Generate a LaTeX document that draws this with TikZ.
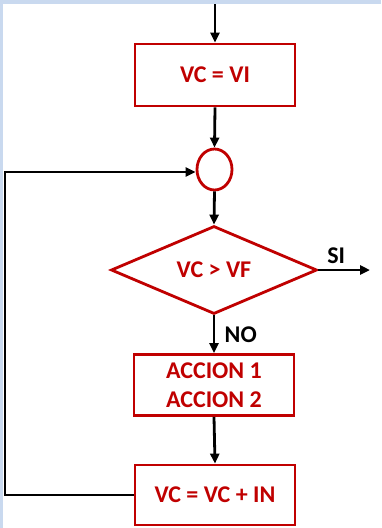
\documentclass[tikz,border=0pt]{standalone}
\usepackage{fontspec}
\setmainfont{Carlito}
\usepackage{tikz}
\usetikzlibrary{arrows.meta,shapes.geometric,positioning}
\definecolor{boxred}{HTML}{C00000}
\definecolor{pageblue}{HTML}{C9D9EF}

\begin{document}
\begin{tikzpicture}[x=1pt,y=-1pt,font=\fontsize{24}{29}\selectfont\bfseries,
  box/.style={draw=boxred,line width=2.8pt,text=boxred,align=center,minimum width=160pt,inner sep=0pt},
  link/.style={draw=black,line width=2.8pt,-{Triangle[length=10pt,width=9pt]}}]
\useasboundingbox (0,0) rectangle (381,528);
\fill[pageblue] (0,0) rectangle (381,528);
\fill[white] (3,4) rectangle (381,528);
\node[box,minimum height=62pt] (vi) at (215,75) {VC = VI};
\node[draw=boxred,line width=2.8pt,ellipse,minimum width=35pt,minimum height=41pt,inner sep=0pt] (ini) at (214.5,169.5) {};
\node[box,diamond,minimum width=206pt,minimum height=88pt,aspect=2.3] (cond) at (214,270) {VC > VF};
\node[box,minimum height=61pt] (acc) at (214,385) {ACCION 1\\ACCION 2};
\node[box,minimum height=60pt] (inc) at (215,495) {VC = VC + IN};
\coordinate (top) at (215,4);
\coordinate (si) at (370,270);
\coordinate (lp) at (5,172);
\draw[link] (top) -- (vi.north);
\draw[link] (vi.south) -- (ini.north);
\draw[link] (ini.south) -- (cond.north);
\draw[link] (cond.east) -- node[above=2pt,xshift=-8pt]{SI} (si);
\draw[link] (cond.south) -- node[right=6pt]{NO} (acc.north);
\draw[link] (acc.south) -- (inc.north);
\draw[link] (inc.west) -| (lp) -- (lp -| ini.west);
\end{tikzpicture}
\end{document}
